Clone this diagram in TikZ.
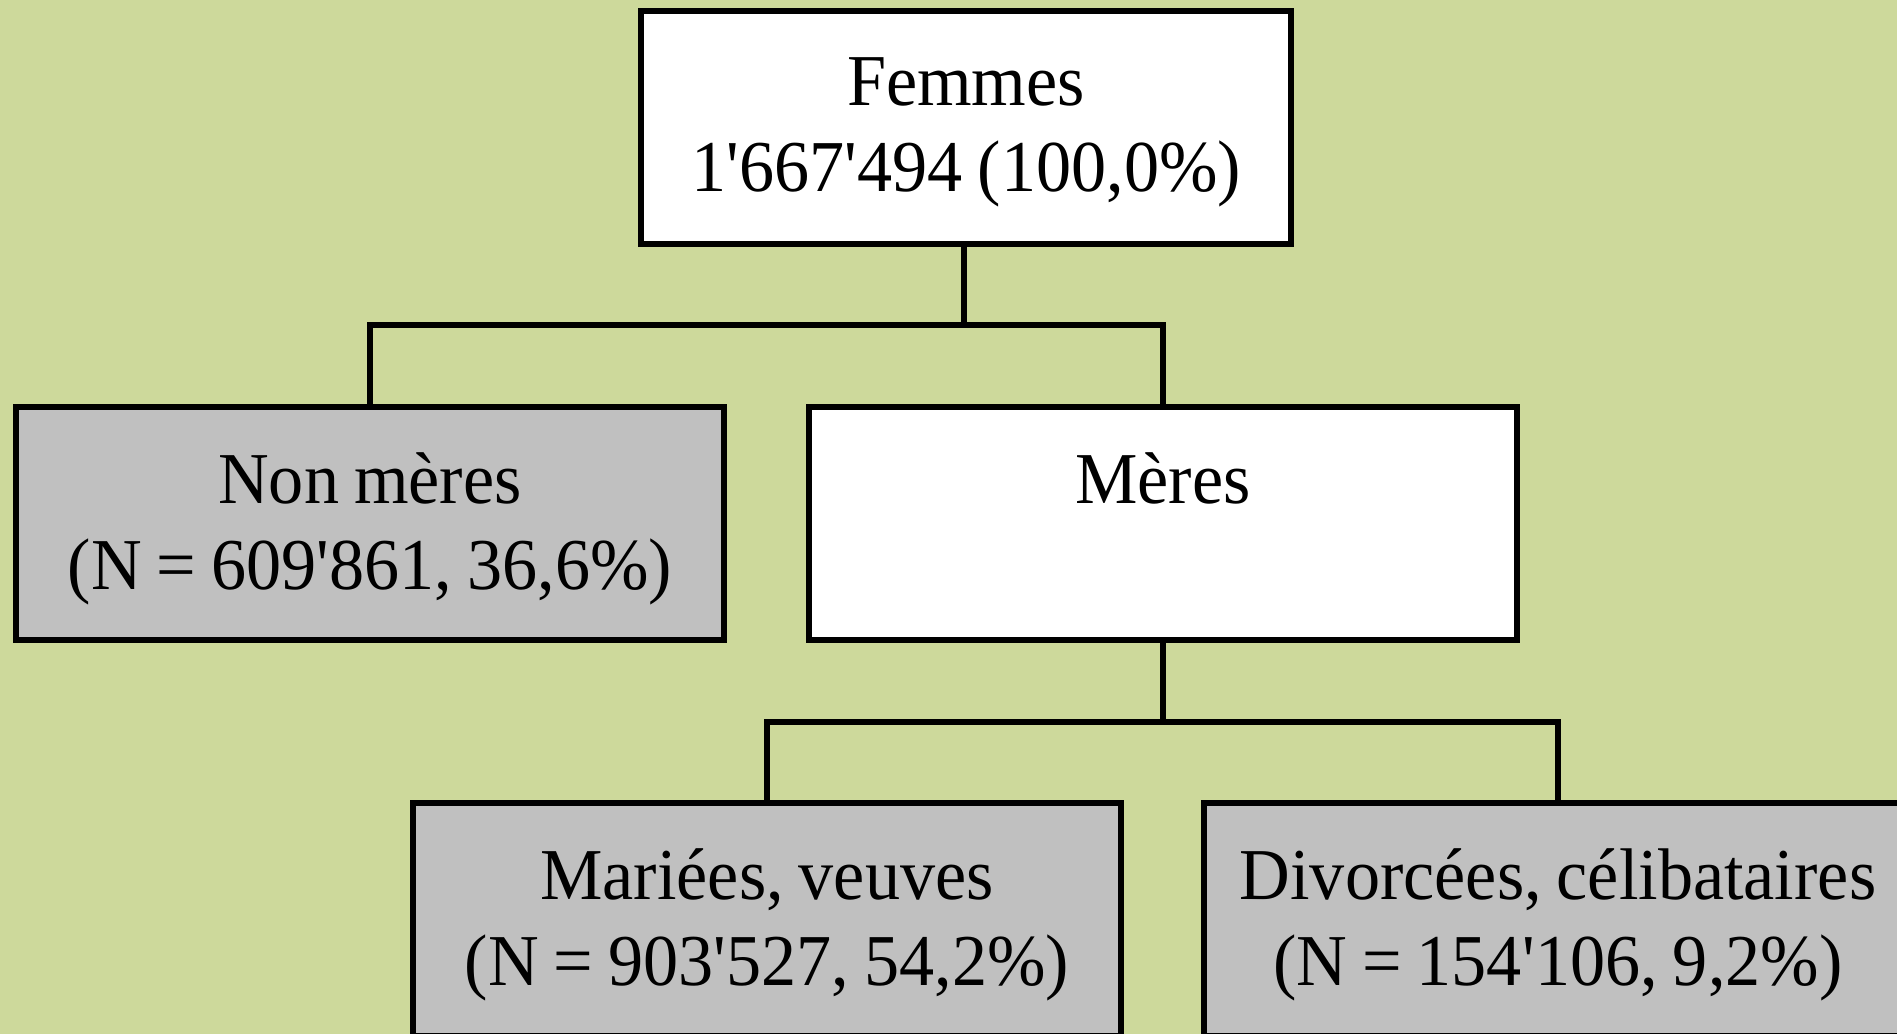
\documentclass[tikz,border=0pt]{standalone}
\usepackage{fontspec}
\setmainfont{Liberation Serif}[FakeStretch=0.96,WordSpace=0.85]
\usepackage{tikz}
\usetikzlibrary{positioning}
\definecolor{fondvert}{RGB}{205,217,155}
\definecolor{grisclair}{RGB}{192,192,192}
\newcommand{\apo}{\textquotesingle}

\tikzset{
  boite/.style={draw=black,line width=1.45pt,minimum width=7.08cm,minimum height=2.33cm,
    align=center,inner sep=0pt,font=\fontsize{20.8}{24.4}\selectfont,text depth=1.5pt},
  blanche/.style={boite,fill=white},
  grise/.style={boite,fill=grisclair},
  lien/.style={line width=1.45pt}
}

\begin{document}
\begin{tikzpicture}[line cap=rect,x=1.0cm,y=1.0cm]
        \clip (0,0) rectangle (18.97,-10.34);
        \fill[fondvert] (0,0) rectangle (18.97,-10.34);
        % niveau 1
        \node[blanche,minimum width=6.5cm] (femmes) at (9.66,-1.275) {Femmes\\1\apo 667\apo 494 (100,0\%)};
        % niveau 2
        \node[grise] (nonmeres) at (3.70,-5.235) {Non mères\\(N = 609\apo 861, 36,6\%)};
        \node[blanche] (meres) at (11.63,-5.235) {Mères\\\phantom{(N)}};
        % niveau 3
        \node[grise] (mariees) at (7.67,-9.195) {Mariées, veuves\\(N = 903\apo 527, 54,2\%)};
        \node[grise] (divorcees) at (15.58,-9.195) {Divorcées, célibataires\\(N = 154\apo 106, 9,2\%)};
        % liens
        \coordinate (j1) at (9.64,-3.25);
        \coordinate (j2) at (11.63,-7.22);
        \draw[lien] (femmes.south -| j1) -- (j1);
        \draw[lien] (nonmeres.north) |- (j1) -| (meres.north);
        \draw[lien] (meres.south) -- (j2);
        \draw[lien] (mariees.north) |- (j2) -| (divorcees.north);
      \end{tikzpicture}
\end{document}
